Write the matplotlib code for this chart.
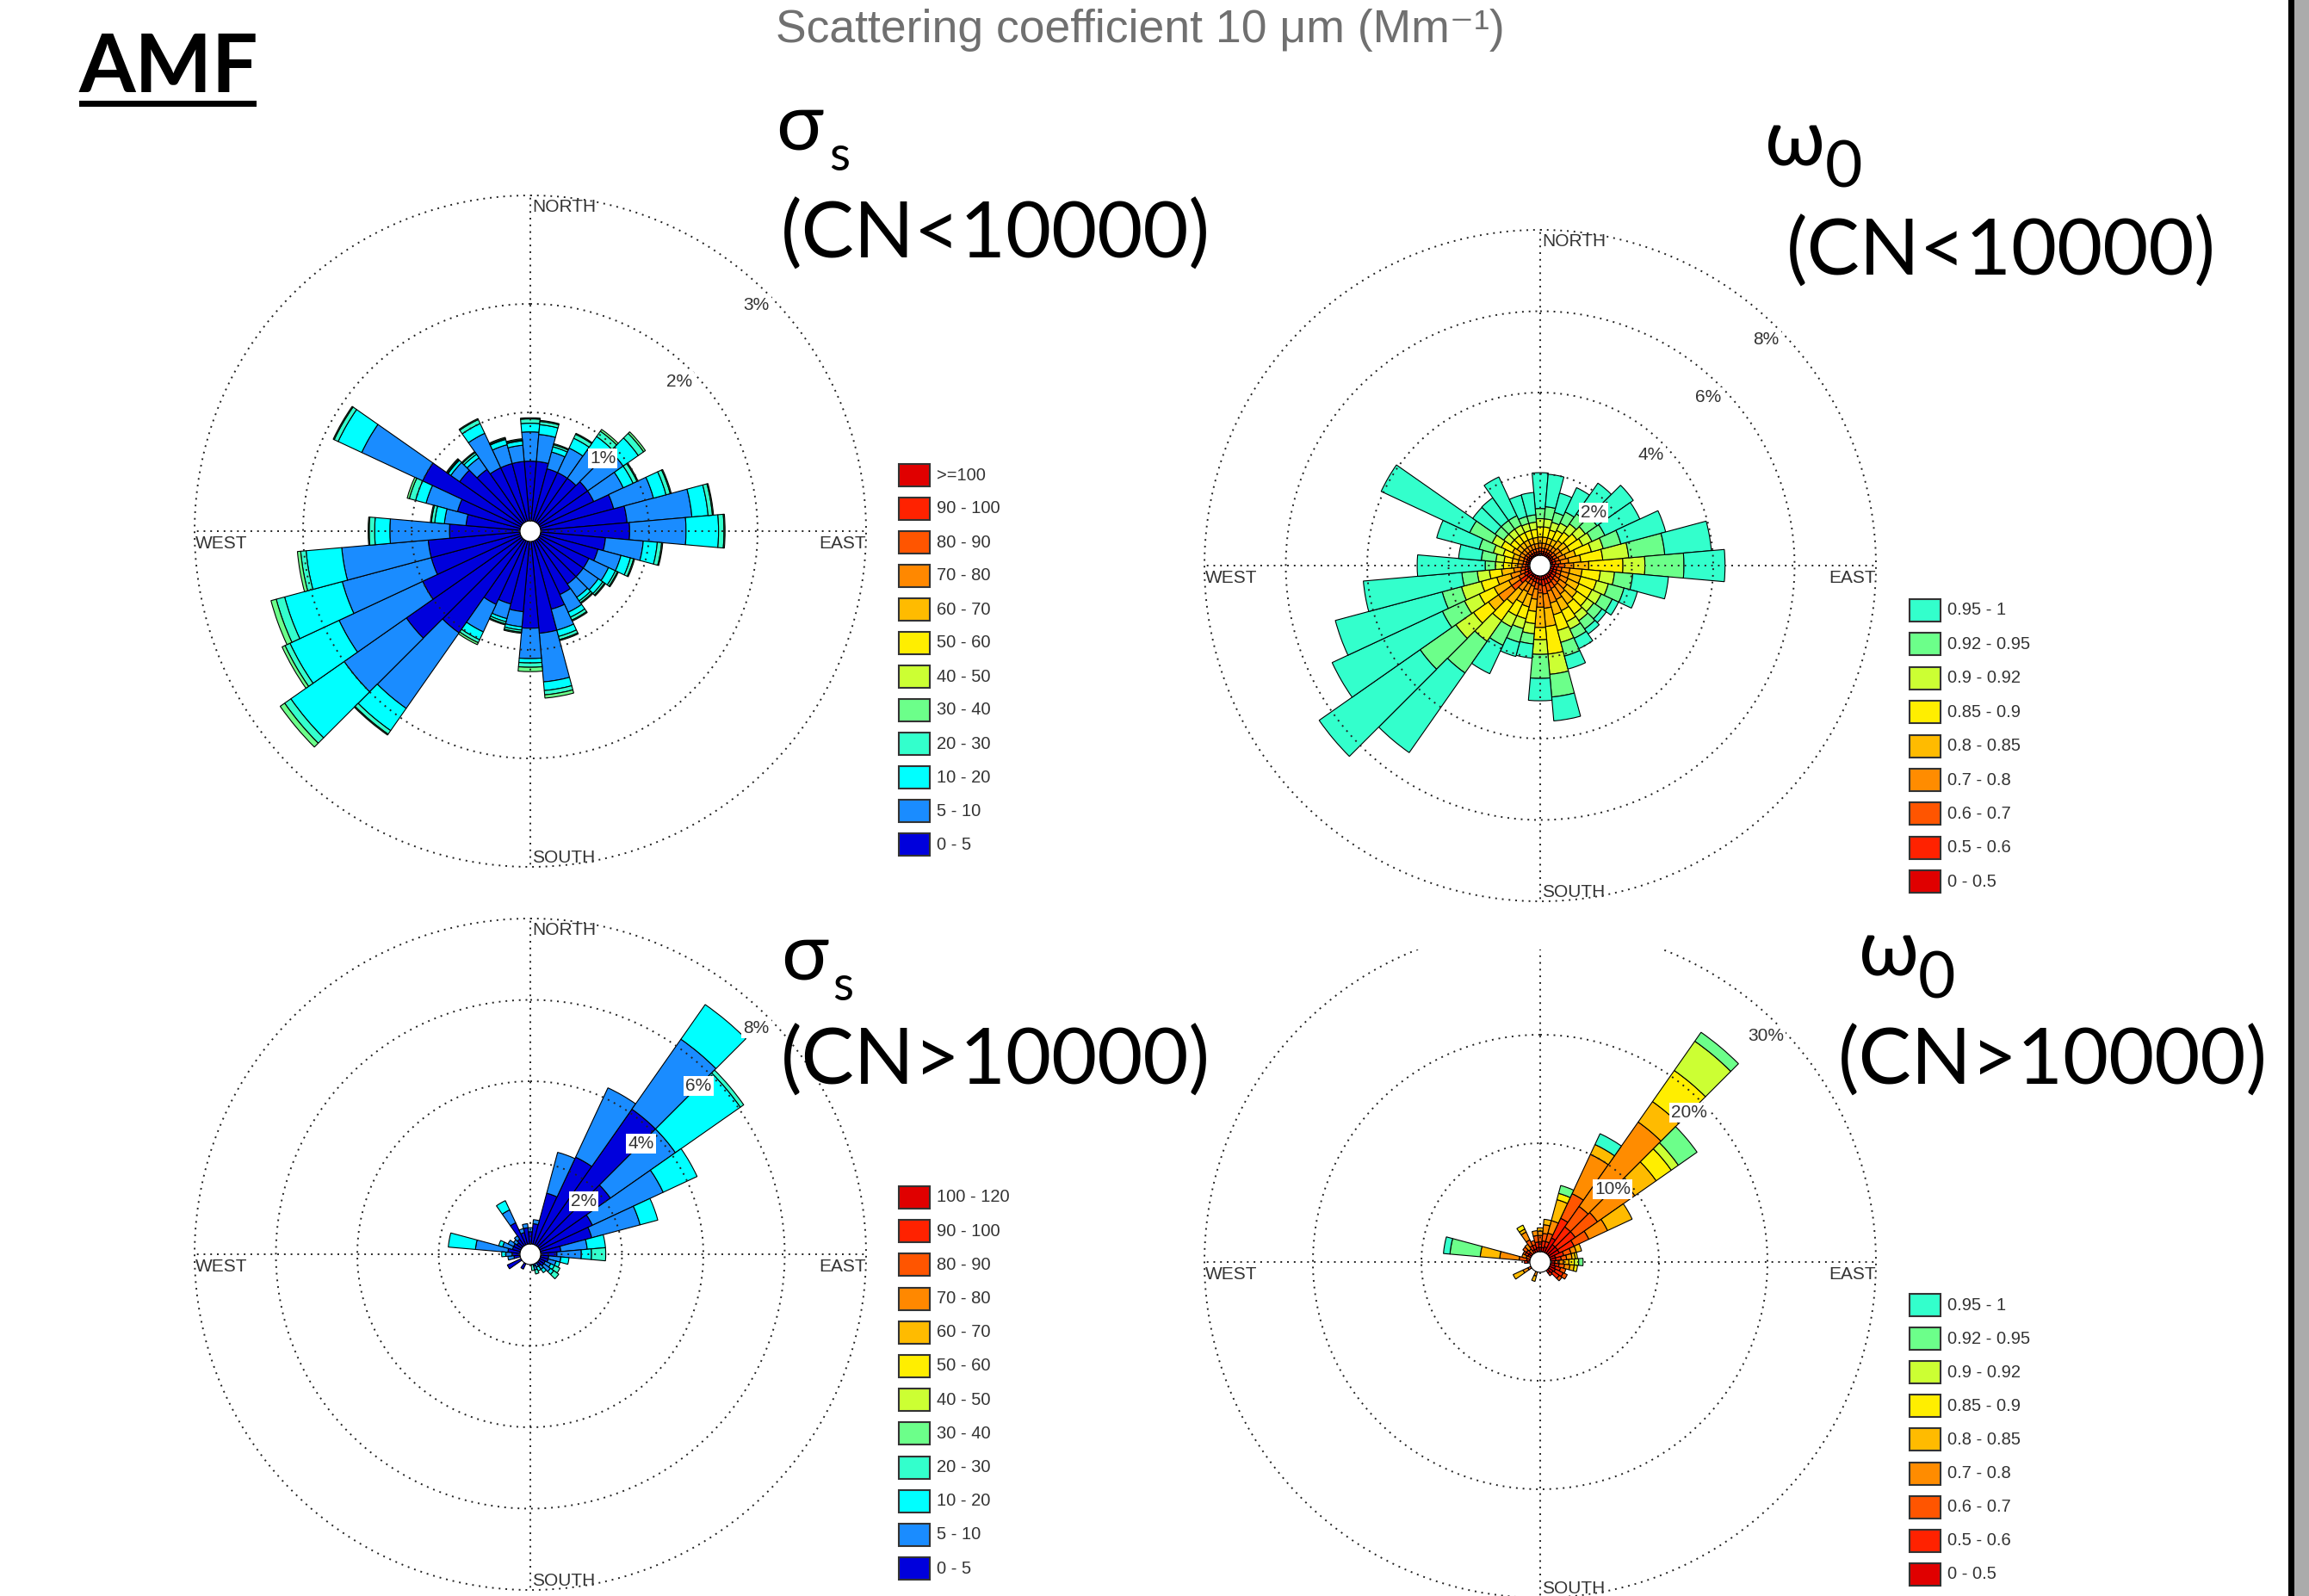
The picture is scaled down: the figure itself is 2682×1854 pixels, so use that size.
import numpy as np
import matplotlib
matplotlib.use("Agg")
import matplotlib.pyplot as plt
from matplotlib.patches import Rectangle

## FIGURE GEOMETRY (pixels)
W, H = 2682, 1854
DPI = 100
R = 390      # outer radius of each rose
HOLE = 12    # white hole in the middle

## DATA
sectors = np.arange(0, 360, 10)   # direction of each sector, degrees from north

# sigma_s, CN < 10000 (% of time per sector and class, Mm-1)
tl_0_5 = [.55, .55, .5, .5, .5, .55, .55, .7, .8, .82, .6, .55, .5, .5, .5, .55, .65, .85,
          .8, .65, .6, .65, 1.05, 1.3, 1.0, .85, .85, .65, .5, .6, 1.0, .7, .6, .55, .55, .55]
tl_5_10 = [.27, .25, .16, .25, .32, .4, .3, .38, .6, .52, .35, .22, .2, .17, .15, .18, .2, .45,
           .28, .14, .14, .28, .85, .7, .85, .85, .8, .55, .2, .3, .62, .1, .13, .35, .18, .15]
tl_10_20 = [.08, .09, .05, .1, .15, .17, .1, .12, .15, .3, .13, .09, .07, .05, .04, .05, .06, .08,
            .04, .03, .03, .08, .25, .6, .5, .55, .33, .14, .09, .1, .24, .03, .04, .1, .05, .04]
tl_20_30 = [.04, .03, .02, .04, .06, .06, .04, .04, .04, .05, .04, .03, .02, .02, .02, .03, .03, .04,
            .04, .02, .02, .03, .04, .07, .05, .08, .05, .05, .03, .06, .04, .01, .02, .04, .01, .01]
tl_30_40 = [.01, .01, .01, .01, .02, .02, .01, .01, .01, .01, .01, .01, .01, .01, .01, .01, .01, .03,
            .04, .01, .01, .02, .01, .05, .03, .05, .03, .01, .01, .02, .01, .01, .01, .01, .01, .01]

# sigma_s, CN > 10000
bl_0_5 = [.3, .5, 1.3, 2.38, 4.1, 2.15, 1.43, 1.31, .5, .4, .2, .2, .15, .15, .1, 0, .05, 0,
          0, 0, 0, .15, 0, 0, .37, 0, .15, .2, .3, .2, .2, .15, .2, .6, .3, .4]
bl_5_10 = [.1, .1, 1.04, 1.88, 2.1, 1.95, 1.92, 1.23, .65, .6, .3, .2, .15, .2, .1, .1, .1, 0,
           0, 0, 0, 0, 0, 0, 0, 0, .15, .15, .8, .25, .15, .1, .1, .35, .1, .1]
bl_10_20 = [0, 0, 0, 0, 1.04, 1.95, .92, .45, .45, .25, .2, .1, .1, .1, .1, .1, 0, 0,
            0, 0, 0, 0, 0, 0, 0, 0, 0, .1, .67, .1, 0, 0, 0, .25, 0, 0]
bl_20_30 = [0, 0, 0, 0, 0, .1, 0, 0, 0, .35, 0, 0, .15, .15, 0, 0, .1, .15,
            0, 0, 0, 0, 0, 0, 0, 0, 0, 0, 0, 0, 0, 0, 0, 0, 0, 0]

# omega_0, CN < 10000
tr_000_050 = [.05, .05, .05, .05, .05, .05, .05, .05, .05, .1, .08, .08, .08, .08, .1, .1, .1, .1,
              .1, .08, .08, .06, .06, .15, .08, .06, .05, .05, .04, .04, .05, .04, .04, .04, .04, .04]
tr_050_060 = [.05, .05, .05, .05, .05, .05, .05, .08, .08, .1, .08, .08, .1, .1, .1, .12, .12, .15,
              .12, .1, .08, .08, .08, .2, .1, .08, .07, .05, .05, .05, .05, .05, .05, .05, .05, .05]
tr_060_070 = [.08, .08, .08, .08, .08, .1, .1, .1, .12, .15, .12, .12, .12, .15, .15, .15, .18, .2,
              .2, .15, .12, .12, .12, .25, .15, .12, .1, .08, .08, .08, .08, .08, .08, .08, .08, .08]
tr_070_080 = [.12, .12, .12, .12, .12, .15, .15, .17, .2, .22, .2, .2, .2, .22, .25, .3, .3, .35,
              .35, .25, .22, .2, .24, .4, .27, .24, .18, .12, .12, .12, .12, .12, .12, .12, .12, .12]
tr_080_085 = [.15, .15, .15, .15, .2, .2, .2, .25, .3, .37, .3, .3, .3, .3, .3, .3, .3, .45,
              .5, .3, .3, .3, .4, .3, .4, .35, .3, .15, .15, .15, .2, .15, .15, .15, .15, .15]
tr_085_090 = [.25, .25, .2, .25, .25, .3, .35, .4, .54, .84, .45, .4, .35, .3, .3, .3, .4, .68,
              .3, .3, .3, .35, .5, .45, .4, .4, .3, .2, .2, .25, .3, .2, .2, .2, .2, .2]
tr_090_092 = [.2, .2, .2, .2, .25, .25, .25, .3, .64, .54, .35, .3, .25, .2, .2, .2, .3, .5,
              .36, .25, .25, .3, .62, .53, .4, .5, .3, .2, .2, .25, .25, .2, .2, .2, .18, .18]
tr_092_095 = [.25, .3, .25, .3, .3, .35, .35, .45, .89, .96, .45, .4, .3, .25, .25, .25, .35, .56,
              .59, .25, .35, .5, .95, 1.07, .6, .49, .38, .25, .36, .36, .61, .26, .26, .26, .18, .18]
tr_095_100 = [.88, .8, .49, .66, .92, 1.09, .95, 1.14, 1.15, 1.01, .88, .34, .17, .13, .15, .28, .33, .59,
              .55, .35, .36, .77, 2.39, 3.03, 2.99, 2.72, 2.43, 1.67, .56, 1.08, 2.4, .67, .68, 1.05, .54, .55]

# omega_0, CN > 10000
br_000_050 = [.4, .4, .5, 1.5, 1.0, 1.0, 1.0, .5, .5, .4, .4, .5, .6, .5, .3, 0, 0, 0,
              0, 0, 0, 0, 0, 0, 0, 0, 0, .2, 0, 0, .3, .3, 0, .3, .3, .4]
br_050_060 = [.5, .6, .5, 2.0, 2.0, 2.0, 1.5, .8, .5, 0, .4, .5, .8, .7, .3, 0, 0, 0,
              0, 0, 0, 0, 0, 0, 0, 0, 0, .3, .3, 0, .3, .3, 0, .4, .4, .5]
br_060_070 = [.6, .7, .8, 2.5, 2.3, 2.5, 1.5, .7, .5, .4, .5, .5, .4, .3, 0, 0, 0, 0,
              0, 0, 0, 0, 0, 0, .3, 0, 0, 0, .7, .4, .2, .4, .5, .6, .4, .6]
br_070_080 = [.4, .8, 1.2, 4.0, 9.5, 4.2, 1.9, .5, .5, .4, .5, 0, 0, 0, 0, 0, 0, 0,
              0, 0, .4, 0, 0, 0, .5, 0, 0, 0, 1.8, .4, 0, 0, .55, .8, 0, .45]
br_080_085 = [.3, .5, 2.0, 1.0, 2.3, 2.4, 2.5, .5, .3, .5, .4, 0, 0, 0, 0, 0, 0, 0,
              0, 0, .5, 0, 0, 0, 1.0, 0, 0, 0, 1.8, 0, 0, 0, 0, .3, 0, 0]
br_085_090 = [0, 0, .6, 0, 3.5, 1.7, 0, 0, .2, .5, .3, 0, 0, 0, 0, 0, 0, 0,
              0, 0, 0, 0, 0, 0, 0, 0, 0, 0, 0, 0, 0, 0, 0, .4, 0, 0]
br_090_092 = [0, 0, 0, 0, 3.3, .8, 0, 0, 0, .4, 0, 0, 0, 0, 0, 0, 0, 0,
              0, 0, 0, 0, 0, 0, 0, 0, 0, 0, 0, 0, 0, 0, 0, 0, 0, 0]
br_092_095 = [0, 0, .75, 0, 1.0, 2.1, 0, 0, 0, .4, 0, 0, 0, 0, 0, 0, 0, 0,
              0, 0, 0, 0, 0, 0, 0, 0, 0, 0, 2.8, 0, 0, 0, 0, 0, 0, 0]
br_095_100 = [0, 0, 0, 1.1, 0, 0, 0, 0, 0, 0, 0, 0, 0, 0, 0, 0, 0, 0,
              0, 0, 0, 0, 0, 0, 0, 0, 0, 0, .6, 0, 0, 0, 0, 0, 0, 0]

# legends, top to bottom
sigma_labels_lo = ['>=100', '90 - 100', '80 - 90', '70 - 80', '60 - 70', '50 - 60',
                   '40 - 50', '30 - 40', '20 - 30', '10 - 20', '5 - 10', '0 - 5']
sigma_labels_hi = ['100 - 120', '90 - 100', '80 - 90', '70 - 80', '60 - 70', '50 - 60',
                   '40 - 50', '30 - 40', '20 - 30', '10 - 20', '5 - 10', '0 - 5']
omega_labels = ['0.95 - 1', '0.92 - 0.95', '0.9 - 0.92', '0.85 - 0.9', '0.8 - 0.85',
                '0.7 - 0.8', '0.6 - 0.7', '0.5 - 0.6', '0 - 0.5']

# colours, lowest class first
sigma_colors = ['#0000DC', '#1A8CFF', '#00FFFF', '#33FFCC', '#6CFF8A', '#CCFF33',
                '#FFEE00', '#FFBB00', '#FF8800', '#FF5500', '#FF2200', '#E00000']
omega_colors = ['#E00000', '#FF2200', '#FF5500', '#FF8C00', '#FFBB00', '#FFEE00',
                '#CCFF33', '#6CFF8A', '#33FFCC']

GRID = '#222222'
TXT = '#333333'
SMALL = dict(fontsize=15, color=TXT, family='Liberation Sans')

fig = plt.figure(figsize=(W / DPI, H / DPI), dpi=DPI)
fig.patch.set_facecolor('white')


def draw_rose(cx, cy, stacks, colors, rmax, rings):
    ax = fig.add_axes([(cx - R) / W, 1 - (cy + R) / H, 2 * R / W, 2 * R / H],
                      projection='polar')
    ax.set_theta_zero_location('N')
    ax.set_theta_direction(-1)
    off = rmax * HOLE / (R - HOLE)
    ax.set_ylim(0, rmax)
    ax.set_rorigin(-off)
    ax.grid(False)
    ax.set_xticks([])
    ax.set_yticks([])
    for sp in ax.spines.values():
        sp.set_visible(False)
    ax.patch.set_visible(False)

    theta = np.deg2rad(sectors)
    bottom = np.zeros(len(sectors))
    for vals, col in zip(stacks, colors):
        vals = np.asarray(vals, dtype=float)
        m = vals > 0
        if m.any():
            ax.bar(theta[m], vals[m], width=np.deg2rad(10), bottom=bottom[m],
                   color=col, edgecolor='black', linewidth=0.8, zorder=2)
        bottom += vals

    t = np.linspace(0, 2 * np.pi, 721)
    for r in rings:
        ax.plot(t, np.full_like(t, r), ls=(0, (1, 3)), color=GRID, lw=1.4,
                zorder=3, clip_on=False)
    for a in (0, 90, 180, 270):
        ax.plot([np.deg2rad(a)] * 2, [0, rmax], ls=(0, (1, 3)), color=GRID,
                lw=1.4, zorder=3, clip_on=False)

    d = 19 * (rmax + off) / R
    for r in rings:
        ax.text(np.deg2rad(45), r - d, f'{r:g}%', ha='center', va='center',
                zorder=4, bbox=dict(fc='white', ec='none', pad=1.5), **SMALL)
    return ax


draw_rose(616, 617, [tl_0_5, tl_5_10, tl_10_20, tl_20_30, tl_30_40],
          sigma_colors, 3, [1, 2, 3])
draw_rose(1789, 657, [tr_000_050, tr_050_060, tr_060_070, tr_070_080, tr_080_085,
                      tr_085_090, tr_090_092, tr_092_095, tr_095_100],
          omega_colors, 8, [2, 4, 6, 8])
draw_rose(616, 1457, [bl_0_5, bl_5_10, bl_10_20, bl_20_30],
          sigma_colors, 8, [2, 4, 6, 8])
draw_rose(1789, 1466, [br_000_050, br_050_060, br_060_070, br_070_080, br_080_085,
                       br_085_090, br_090_092, br_092_095, br_095_100],
          omega_colors, 30, [10, 20, 30])

# overlay in pixel coordinates for all the slide text
ov = fig.add_axes([0, 0, 1, 1])
ov.set_xlim(0, W)
ov.set_ylim(H, 0)
ov.axis('off')

# bottom-right picture is cropped at its top
ov.add_patch(Rectangle((1395, 1055), 800, 48, facecolor='white', edgecolor='none', zorder=0.5))


def compass(cx, cy, north=True):
    if north:
        ov.text(cx + 2, cy - R + 4, 'NORTH', ha='left', va='top', **SMALL)
    ov.text(cx + 2, cy + R - 1, 'SOUTH', ha='left', va='bottom', **SMALL)
    ov.text(cx - R + 1, cy + 5, 'WEST', ha='left', va='top', **SMALL)
    ov.text(cx + R, cy + 5, 'EAST', ha='right', va='top', **SMALL)


compass(616, 617)
compass(1789, 657)
compass(616, 1457)
compass(1789, 1466, north=False)


def legend(x0, y0, step, labels, colors):
    for i, (lab, col) in enumerate(zip(labels, colors[::-1])):
        yc = y0 + i * step
        ov.add_patch(Rectangle((x0, yc - 13), 36, 26, facecolor=col,
                               edgecolor='#333333', lw=1.5))
        ov.text(x0 + 44, yc, lab, ha='left', va='center', fontsize=14.5,
                color=TXT, family='Liberation Sans')


legend(1044, 552, 39.0, sigma_labels_lo, sigma_colors)
legend(2218, 709, 39.4, omega_labels, omega_colors)
legend(1044, 1391, 39.2, sigma_labels_hi, sigma_colors)
legend(2218, 1516, 39.1, omega_labels, omega_colors)

# slide texts
BIG = ['Lato', 'Noto Sans', 'DejaVu Sans']
ov.text(92, 107, 'AMF', fontsize=68, fontweight='bold', family=BIG,
        ha='left', va='baseline', color='black')
ov.add_patch(Rectangle((92, 117), 206, 7, facecolor='black', edgecolor='none'))

ov.text(901, 49, 'Scattering coefficient 10 \u03bcm (Mm\u207b\u00b9)', fontsize=38.5,
        color='#707070', family=['Liberation Sans', 'DejaVu Sans'],
        ha='left', va='baseline')

ov.text(901, 173, '\u03c3', fontsize=66, family=BIG, ha='left', va='baseline')
ov.text(963, 198, 's', fontsize=40, family=BIG, ha='left', va='baseline')
ov.text(907, 300, '(CN<10000)', fontsize=66, family=BIG, ha='left', va='baseline')

ov.text(2050, 192, '\u03c9', fontsize=66, family=BIG, ha='left', va='baseline')
ov.text(2120, 217, '0', fontsize=54, family=BIG, ha='left', va='baseline')
ov.text(2075, 320, '(CN<10000)', fontsize=66, family=BIG, ha='left', va='baseline')

ov.text(907, 1138, '\u03c3', fontsize=66, family=BIG, ha='left', va='baseline')
ov.text(967, 1162, 's', fontsize=40, family=BIG, ha='left', va='baseline')
ov.text(907, 1260, '(CN>10000)', fontsize=66, family=BIG, ha='left', va='baseline')

ov.text(2159, 1133, '\u03c9', fontsize=66, family=BIG, ha='left', va='baseline')
ov.text(2228, 1160, '0', fontsize=54, family=BIG, ha='left', va='baseline')
ov.text(2135, 1260, '(CN>10000)', fontsize=66, family=BIG, ha='left', va='baseline')

# slide border at the right edge
ov.add_patch(Rectangle((2658, 0), 7, H, facecolor='black', edgecolor='none'))
ov.add_patch(Rectangle((2665, 0), 17, H, facecolor='#ABABAB', edgecolor='none'))

fig.savefig('out.png', dpi=DPI, facecolor='white')
